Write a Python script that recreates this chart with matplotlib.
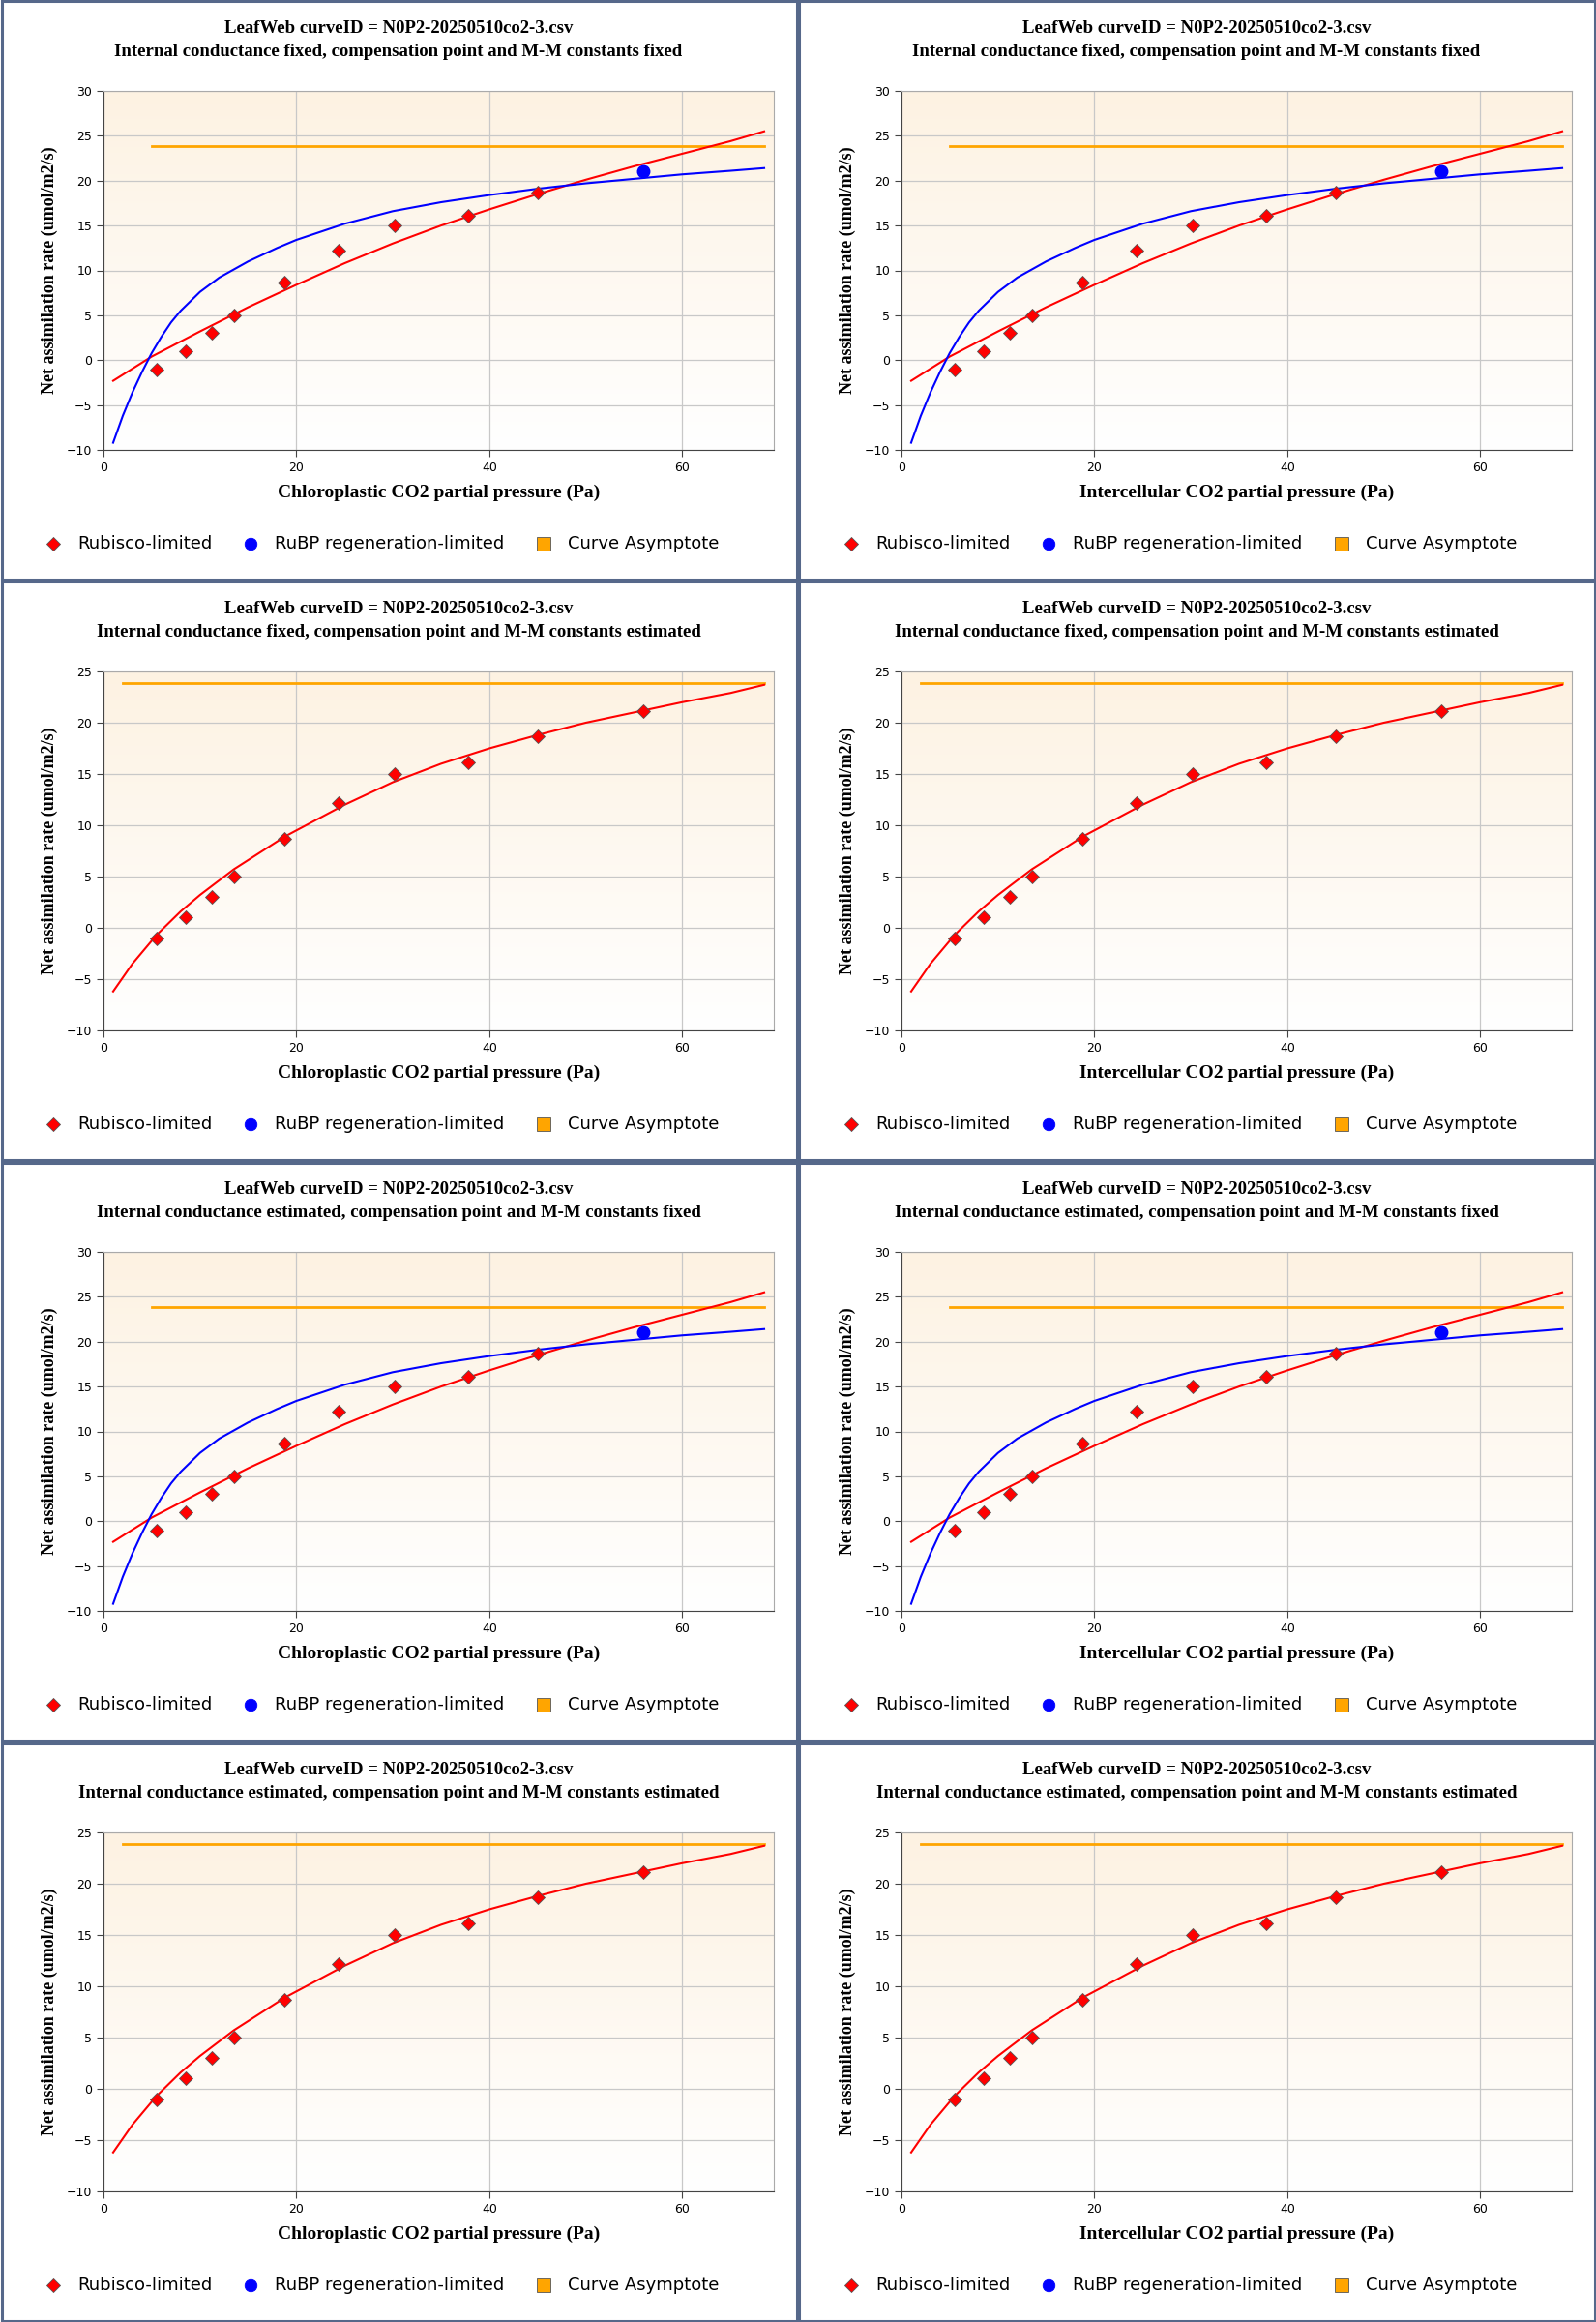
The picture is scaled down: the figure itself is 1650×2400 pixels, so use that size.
import numpy as np
import matplotlib
matplotlib.use("Agg")
import matplotlib.pyplot as plt
from matplotlib.lines import Line2D
from matplotlib.patches import Rectangle

# data points
rub_x = [5.5, 8.5, 11.2, 13.5, 18.8, 24.4, 30.2, 37.8, 45.0]
rub_y = [-1.0, 1.0, 3.0, 5.0, 8.7, 12.2, 15.0, 16.1, 18.7]
last_x = [56.0]
last_y = [21.1]

# fixed-constant curves
fix_red_x = [1, 5, 10, 15, 20, 25, 30, 35, 40, 45, 50, 55, 60, 65, 68.5]
fix_red_y = [-2.3, 0.4, 3.2, 5.9, 8.4, 10.8, 13.0, 15.0, 16.8, 18.5, 20.1, 21.6, 23.0, 24.4, 25.5]
fix_blue_x = [1, 2, 3, 4, 5, 6, 7, 8, 10, 12, 15, 18, 20, 25, 30, 35, 40, 45, 50, 55, 60, 65, 68.5]
fix_blue_y = [-9.2, -6.2, -3.6, -1.3, 0.8, 2.6, 4.2, 5.5, 7.6, 9.2, 11.0, 12.5, 13.4, 15.2, 16.6, 17.6, 18.4, 19.1, 19.7, 20.2, 20.7, 21.1, 21.4]
fix_asym = 23.85
fix_asym_x = [5, 68.5]

# estimated-constant curve
est_red_x = [1, 3, 5.5, 8, 10, 13.5, 18.8, 25, 30, 35, 40, 45, 50, 55, 60, 65, 68.5]
est_red_y = [-6.2, -3.5, -0.7, 1.6, 3.2, 5.7, 8.9, 12.0, 14.2, 16.0, 17.5, 18.8, 20.0, 21.0, 22.0, 22.9, 23.7]
est_asym = 23.9
est_asym_x = [2, 68.5]

xlabels = ["Chloroplastic CO2 partial pressure (Pa)", "Intercellular CO2 partial pressure (Pa)"]
subtitles = [
    "Internal conductance fixed, compensation point and M-M constants fixed",
    "Internal conductance fixed, compensation point and M-M constants estimated",
    "Internal conductance estimated, compensation point and M-M constants fixed",
    "Internal conductance estimated, compensation point and M-M constants estimated",
]
title1 = "LeafWeb curveID = N0P2-20250510co2-3.csv"

W, H = 1650, 2400
PW, PH = 825, 600
fig = plt.figure(figsize=(W / 100, H / 100), dpi=100)
serif = "Liberation Serif"

grad = np.linspace(1, 0, 256).reshape(-1, 1)
cmap = matplotlib.colors.LinearSegmentedColormap.from_list("g", ["#ffffff", "#fdf2e2"])

for i in range(4):
    for j in range(2):
        ox, oy = PW * j, PH * i
        fig.add_artist(Rectangle(((ox + 1.5) / W, 1 - (oy + PH - 1.5) / H), (PW - 3) / W, (PH - 3) / H,
                                 transform=fig.transFigure, fill=False, ec="#56688a", lw=2.2))
        ax = fig.add_axes([(ox + 107) / W, 1 - (oy + 465) / H, 693 / W, 371 / H])
        fixed = (i % 2 == 0)
        ylim = (-10, 30) if fixed else (-10, 25)
        ax.set_xlim(0, 69.5)
        ax.set_ylim(*ylim)
        ax.imshow(grad, cmap=cmap, aspect="auto", extent=[0, 69.5, ylim[0], ylim[1]], zorder=0)
        ax.grid(True, color="#c8c8c8", lw=0.9, zorder=1)
        ax.set_axisbelow(True)
        ax.set_xticks([0, 20, 40, 60])
        ax.set_yticks(np.arange(ylim[0], ylim[1] + 1, 5))
        ax.tick_params(labelsize=9, length=5, color="#444444")
        for s in ax.spines.values():
            s.set_color("#aaaaaa")
        ax.spines["left"].set_color("#444444")
        ax.spines["bottom"].set_color("#444444")
        if fixed:
            ax.plot(fix_asym_x, [fix_asym, fix_asym], color="#ffa500", lw=2, zorder=2)
            ax.plot(fix_red_x, fix_red_y, color="#ff0000", lw=1.5, zorder=3)
            ax.plot(fix_blue_x, fix_blue_y, color="#0000ff", lw=1.5, zorder=3)
            ax.plot(last_x, last_y, "o", color="#0000ff", ms=9, zorder=4)
        else:
            ax.plot(est_asym_x, [est_asym, est_asym], color="#ffa500", lw=2, zorder=2)
            ax.plot(est_red_x, est_red_y, color="#ff0000", lw=1.5, zorder=3)
            ax.plot(last_x, last_y, "D", color="#ff0000", mec="#555555", mew=0.6, ms=7, zorder=4)
        ax.plot(rub_x, rub_y, "D", color="#ff0000", mec="#555555", mew=0.6, ms=7, zorder=4)
        ax.set_xlabel(xlabels[j], family=serif, fontweight="bold", fontsize=14, labelpad=8)
        ax.set_ylabel("Net assimilation rate (umol/m2/s)", family=serif, fontweight="bold", fontsize=13, labelpad=6)
        cx = (ox + 412) / W
        fig.text(cx, 1 - (oy + 30) / H, title1, ha="center", va="center", family=serif, fontweight="bold", fontsize=13.5)
        fig.text(cx, 1 - (oy + 53) / H, subtitles[i], ha="center", va="center", family=serif, fontweight="bold", fontsize=13.5)
        ly = 1 - (oy + 562) / H
        items = [(55, "D", "#ff0000", 7, "Rubisco-limited", 80),
                 (259, "o", "#0000ff", 9, "RuBP regeneration-limited", 284),
                 (562, "s", "#ffa500", 10, "Curve Asymptote", 587)]
        for mx, mk, c, ms, label, tx in items:
            fig.add_artist(Line2D([(ox + mx) / W], [ly], transform=fig.transFigure, marker=mk,
                                  color=c, ms=ms, mec="#555555" if mk != "o" else c, mew=0.6, ls="none"))
            fig.text((ox + tx) / W, ly, label, ha="left", va="center", fontsize=13, family="DejaVu Sans")

fig.savefig("out.png", dpi=100)
